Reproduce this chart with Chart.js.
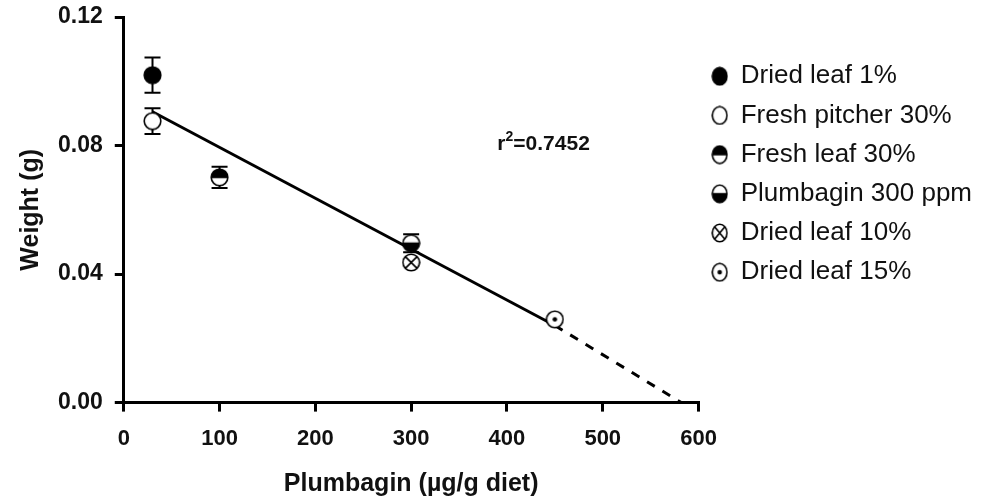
<!DOCTYPE html>
<html>
<head>
<meta charset="utf-8">
<script src="https://cdn.jsdelivr.net/npm/chart.js@4.4.0/dist/chart.umd.min.js"></script>
<style>
  html, body { margin: 0; padding: 0; background: #fff; }
  #wrap { width: 993px; height: 499px; }
</style>
</head>
<body>
<div id="wrap"><canvas id="chart" width="993" height="499"></canvas></div>
<script>
// data
const groups = ['Dried leaf 1%', 'Fresh pitcher 30%', 'Fresh leaf 30%', 'Plumbagin 300 ppm', 'Dried leaf 10%', 'Dried leaf 15%'];
const markers = ['filled', 'open', 'topHalf', 'bottomHalf', 'cross', 'dot'];
const doses = [30, 30, 100, 300, 300, 450];
const weights = [0.1019, 0.0876, 0.0701, 0.0496, 0.0436, 0.0259];
const errors = [0.0055, 0.0040, 0.0033, 0.0028, 0, 0];
const fitSolid = [[30, 0.0905], [450, 0.0240]];
const fitDashed = [[450, 0.0240], [582, 0]];
const xTicks = [0, 100, 200, 300, 400, 500, 600];
const yTicks = [0, 0.04, 0.08, 0.12];
const rSquared = '0.7452';

const FONT = "'Liberation Sans', Arial, sans-serif";

function makeMarker(kind, w, h) {
    const c = document.createElement('canvas');
    c.width = w; c.height = h;
    const g = c.getContext('2d');
    const cx = w / 2, cy = h / 2, rx = w / 2 - 1.2, ry = h / 2 - 1.2;
    g.lineWidth = 1.6;
    g.strokeStyle = '#000';
    g.beginPath(); g.ellipse(cx, cy, rx, ry, 0, 0, Math.PI * 2);
    g.fillStyle = kind === 'filled' ? '#000' : '#fff';
    g.fill();
    g.fillStyle = '#000';
    if (kind === 'topHalf' || kind === 'bottomHalf') {
        g.beginPath();
        if (kind === 'topHalf') g.ellipse(cx, cy, rx, ry, 0, Math.PI, Math.PI * 2);
        else g.ellipse(cx, cy, rx, ry, 0, 0, Math.PI);
        g.closePath(); g.fill();
        g.beginPath(); g.moveTo(cx - rx, cy); g.lineTo(cx + rx, cy); g.stroke();
    }
    if (kind === 'cross') {
        const k = Math.SQRT1_2;
        g.beginPath();
        g.moveTo(cx - rx * k, cy - ry * k); g.lineTo(cx + rx * k, cy + ry * k);
        g.moveTo(cx + rx * k, cy - ry * k); g.lineTo(cx - rx * k, cy + ry * k);
        g.stroke();
    }
    if (kind === 'dot') {
        g.beginPath(); g.arc(cx, cy, 2.3, 0, Math.PI * 2); g.fill();
    }
    g.beginPath(); g.ellipse(cx, cy, rx, ry, 0, 0, Math.PI * 2); g.stroke();
    return c;
}

const pointImages = markers.map(m => makeMarker(m, 19, 19));
const legendImages = markers.map(m => makeMarker(m, 17, 20));

const scatterSets = groups.map((name, i) => ({
    type: 'scatter',
    label: name,
    data: [{ x: doses[i], y: weights[i] }],
    err: errors[i],
    pointStyle: pointImages[i],
    legendStyle: legendImages[i],
    pointRadius: 9,
    order: 1
}));

const lineSets = [
    { type: 'line', label: 'fit', data: fitSolid.map(p => ({ x: p[0], y: p[1] })), borderColor: '#000', borderWidth: 3, pointRadius: 0, order: 2 },
    { type: 'line', label: 'extrapolation', data: fitDashed.map(p => ({ x: p[0], y: p[1] })), borderColor: '#000', borderWidth: 3, borderDash: [9, 9], pointRadius: 0, order: 2 }
];

// error bars drawn under the markers
const errorBars = {
    id: 'errorBars',
    beforeDatasetsDraw(chart) {
        const { ctx, scales: { x, y } } = chart;
        ctx.save();
        ctx.strokeStyle = '#000';
        ctx.lineWidth = 2;
        chart.data.datasets.forEach(ds => {
            if (!ds.err) return;
            const p = ds.data[0];
            const px = x.getPixelForValue(p.x);
            const top = y.getPixelForValue(p.y + ds.err);
            const bot = y.getPixelForValue(p.y - ds.err);
            ctx.beginPath();
            ctx.moveTo(px, top); ctx.lineTo(px, bot);
            ctx.moveTo(px - 8, top); ctx.lineTo(px + 8, top);
            ctx.moveTo(px - 8, bot); ctx.lineTo(px + 8, bot);
            ctx.stroke();
        });
        ctx.restore();
    }
};

const rLabel = {
    id: 'rLabel',
    afterDraw(chart) {
        const { ctx, scales: { x, y } } = chart;
        let px = x.getPixelForValue(390);
        const py = y.getPixelForValue(0.0785);
        ctx.save();
        ctx.fillStyle = '#111';
        ctx.textBaseline = 'alphabetic';
        ctx.font = 'bold 21px ' + FONT;
        ctx.fillText('r', px, py);
        px += ctx.measureText('r').width;
        ctx.font = 'bold 14px ' + FONT;
        ctx.fillText('2', px, py - 9);
        px += ctx.measureText('2').width;
        ctx.font = 'bold 21px ' + FONT;
        ctx.fillText('=' + rSquared, px, py);
        ctx.restore();
    }
};

new Chart(document.getElementById('chart'), {
    data: { datasets: [...scatterSets, ...lineSets] },
    options: {
        responsive: false,
        animation: false,
        devicePixelRatio: 1,
        layout: { padding: { left: 16, top: 0, right: 11, bottom: 0 } },
        plugins: {
            tooltip: { enabled: false },
            legend: {
                position: 'right',
                align: 'start',
                maxWidth: 320,
                title: { display: true, text: ' ', padding: { top: 26, bottom: 0 }, font: { size: 20 } },
                labels: {
                    usePointStyle: true,
                    pointStyleWidth: 16,
                    color: '#111',
                    padding: 13.2,
                    font: { family: FONT, size: 26 },
                    filter: item => item.datasetIndex < groups.length,
                    generateLabels(chart) {
                        return chart.data.datasets.map((ds, i) => ({
                            text: ds.label,
                            pointStyle: ds.legendStyle,
                            fillStyle: '#000',
                            strokeStyle: '#000',
                            fontColor: '#111',
                            lineWidth: 0,
                            datasetIndex: i,
                            hidden: false
                        }));
                    }
                }
            }
        },
        scales: {
            x: {
                type: 'linear',
                min: 0, max: 600,
                afterBuildTicks: s => { s.ticks = xTicks.map(v => ({ value: v })); },
                grid: { display: true, drawOnChartArea: false, drawTicks: true, tickLength: 9, color: '#000', lineWidth: 3 },
                border: { display: true, color: '#000', width: 3 },
                ticks: { color: '#111', padding: 14, font: { family: FONT, size: 22, weight: 'bold' }, maxRotation: 0 },
                title: { display: true, text: 'Plumbagin (µg/g diet)', color: '#111', padding: { top: 3, bottom: 0 }, font: { family: FONT, size: 25, weight: 'bold' } }
            },
            y: {
                type: 'linear',
                min: 0, max: 0.12,
                afterBuildTicks: s => { s.ticks = yTicks.map(v => ({ value: v })); },
                // top label only needs half its height above the axis end
                afterFit: s => { s.paddingTop = 17; },
                grid: { display: true, drawOnChartArea: false, drawTicks: true, tickLength: 9, color: '#000', lineWidth: 3 },
                border: { display: true, color: '#000', width: 3 },
                ticks: { color: '#111', padding: 12, font: { family: FONT, size: 23, weight: 'bold' }, callback: v => v.toFixed(2) },
                title: { display: true, text: 'Weight (g)', color: '#111', padding: { top: 0, bottom: 0 }, font: { family: FONT, size: 25, weight: 'bold' } }
            }
        }
    },
    plugins: [errorBars, rLabel]
});
</script>
</body>
</html>
